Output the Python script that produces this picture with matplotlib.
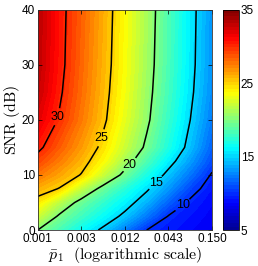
import numpy as np
import matplotlib
matplotlib.use('Agg')
import matplotlib.pyplot as plt
from matplotlib.colors import LinearSegmentedColormap

# p values (log spaced) and SNR rows
p_vals = [0.001, 0.00187, 0.0035, 0.00655, 0.01225, 0.0229, 0.0429, 0.0802, 0.150]
snr_vals = [0, 2.5, 5, 7.5, 10, 12.5, 15, 20, 25, 30, 40]
z_vals = [
    [20.0, 18.2, 16.4, 14.6, 12.3, 10.0, 9.4, 8.8, 8.2],
    [22.2, 19.7, 18.0, 16.3, 14.5, 12.2, 9.9, 9.2, 8.5],
    [24.2, 21.6, 19.3, 17.6, 15.9, 13.9, 11.5, 9.7, 8.8],
    [26.0, 24.9, 21.9, 19.3, 17.3, 15.3, 13.1, 10.7, 9.2],
    [27.7, 26.3, 24.9, 22.1, 19.4, 16.9, 14.4, 12.1, 9.8],
    [29.2, 27.5, 25.8, 23.7, 21.0, 18.4, 15.8, 13.3, 10.8],
    [30.5, 28.5, 26.6, 24.5, 22.1, 19.6, 17.0, 14.3, 11.5],
    [32.0, 29.8, 27.6, 25.4, 22.9, 20.4, 17.7, 15.0, 12.3],
    [32.8, 30.3, 28.0, 25.7, 23.3, 20.7, 18.1, 15.4, 12.75],
    [33.1, 30.6, 28.2, 25.9, 23.5, 20.9, 18.3, 15.6, 12.95],
    [33.2, 30.7, 28.4, 26.1, 23.6, 21.1, 18.4, 15.7, 13.1],
]
line_levels = [10, 15, 20, 25, 30]
xtick_vals = [0.001, 0.0035, 0.01225, 0.0428, 0.150]
xtick_labels = ['0.001', '0.003', '0.012', '0.043', '0.150']
label_spots = [(0.0627, 4.8), (0.030, 8.5), (0.0142, 11.8), (0.0063, 16.7), (0.00182, 20.5)]

# matlab style jet
jet_m = LinearSegmentedColormap('jet_m', {
    'red': [(0, 0, 0), (0.375, 0, 0), (0.625, 1, 1), (0.875, 1, 1), (1, 0.5, 0.5)],
    'green': [(0, 0, 0), (0.125, 0, 0), (0.375, 1, 1), (0.625, 1, 1), (0.875, 0, 0), (1, 0, 0)],
    'blue': [(0, 0.5625, 0.5625), (0.125, 1, 1), (0.375, 1, 1), (0.625, 0, 0), (1, 0, 0)],
})

plt.rcParams['font.family'] = ['Liberation Sans', 'DejaVu Sans']
plt.rcParams['mathtext.fontset'] = 'cm'

fig = plt.figure(figsize=(2.58, 2.66), dpi=100)
ax = fig.add_axes([0.146, 0.135, 0.676, 0.829])
cax = fig.add_axes([0.863, 0.135, 0.064, 0.829])

# x axis in log10(p)
lx = np.log10(p_vals)
X, Y = np.meshgrid(lx, snr_vals)
Z = np.array(z_vals)

cf = ax.contourf(X, Y, Z, levels=np.linspace(5, 35, 65), cmap=jet_m)
cs = ax.contour(X, Y, Z, levels=line_levels, colors='k', linewidths=1.1)
spots = [(np.log10(a), b) for a, b in label_spots]
labels = ax.clabel(cs, fmt='%d', fontsize=9, inline=True, inline_spacing=2, manual=spots)
for t in labels:
    t.set_rotation(0)

ax.set_xlim(lx[0], lx[-1])
ax.set_ylim(0, 40)
ax.set_xticks(np.log10(xtick_vals))
ax.set_xticklabels(xtick_labels)
ax.set_yticks([0, 10, 20, 30, 40])
ax.tick_params(direction='in', top=True, right=True, labelsize=8.5, length=3, width=0.5, pad=2)
for s in ax.spines.values():
    s.set_linewidth(0.6)
    s.set_color('#333333')
ax.set_ylabel(r'$\mathrm{SNR\ (dB)}$', fontsize=11.5, labelpad=0)
ax.set_xlabel(r'$\bar{p}_1\ \ \mathrm{(logarithmic\ scale)}$', fontsize=11.5, labelpad=0)

cb = fig.colorbar(cf, cax=cax, ticks=[5, 15, 25, 35])
cb.ax.tick_params(labelsize=8.5, length=0, pad=1)
cb.outline.set_linewidth(0.6)

fig.savefig('out.png', dpi=100)
